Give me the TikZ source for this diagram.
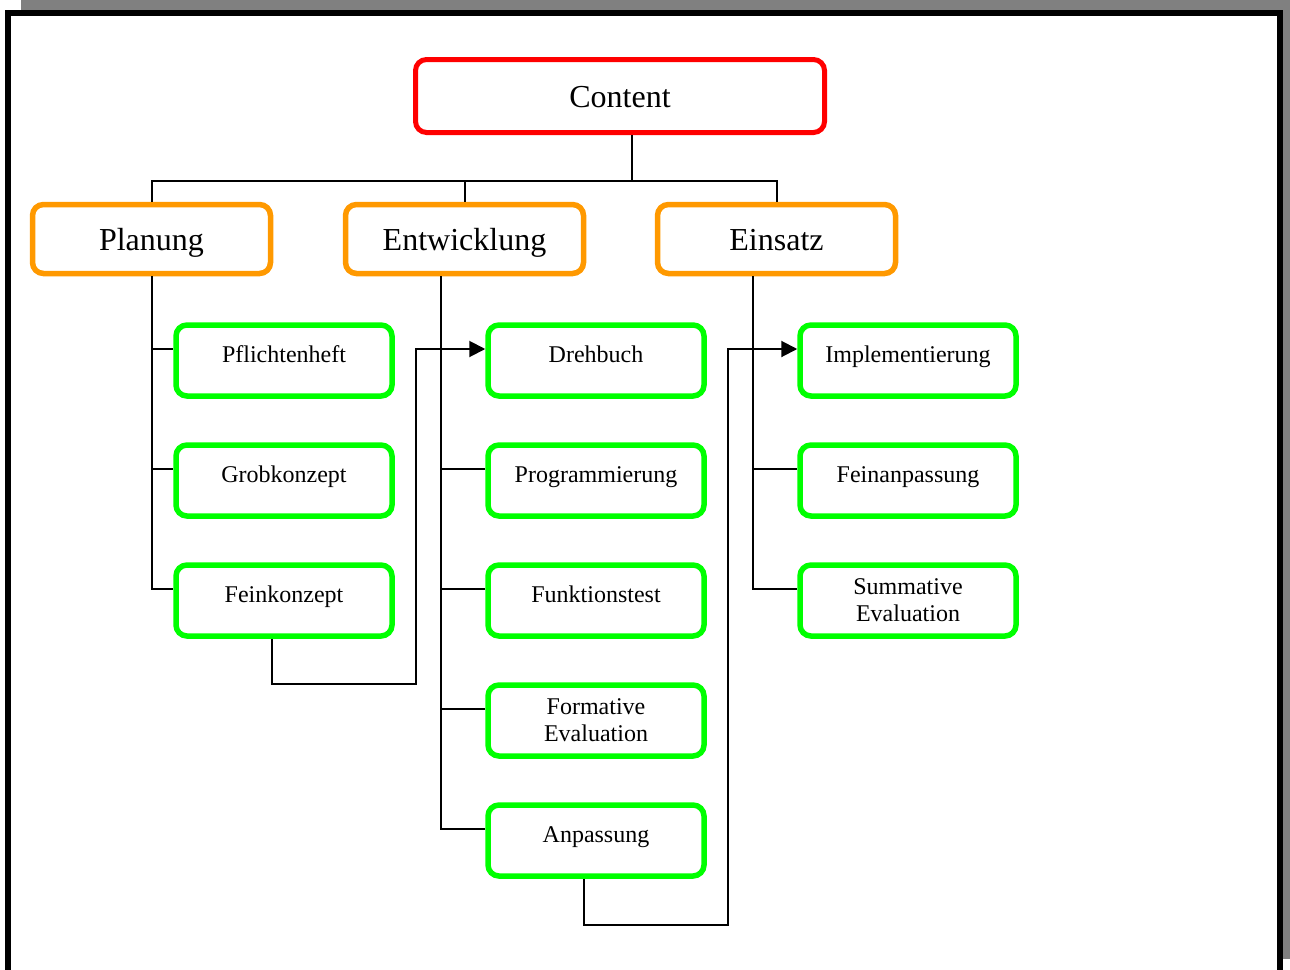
\documentclass[tikz,border=0pt]{standalone}
\usepackage{fontspec}
\setmainfont{Liberation Serif}
\usetikzlibrary{arrows.meta}
\definecolor{boxred}{RGB}{255,0,0}
\definecolor{boxorange}{RGB}{255,153,0}
\definecolor{boxgreen}{RGB}{0,255,0}
\definecolor{shadowgray}{RGB}{128,128,128}

\begin{document}
\begin{tikzpicture}[x=1pt,y=-1pt,
  bigtext/.style={font=\fontsize{32}{38}\selectfont, text height=22pt, text depth=0pt},
  topbox/.style={draw=boxred, line width=5pt, rounded corners=11pt,
    minimum width=409pt, minimum height=73pt, inner sep=0pt, bigtext},
  phasebox/.style={draw=boxorange, line width=5.5pt, rounded corners=11pt,
    minimum width=238pt, minimum height=69pt, inner sep=0pt, bigtext},
  taskbox/.style={draw=boxgreen, line width=5.5pt, rounded corners=11pt,
    minimum width=216pt, minimum height=71pt, inner sep=0pt, align=center,
    font=\fontsize{24}{27}\selectfont},
  oneline/.style={text height=16pt, text depth=13pt},
  wire/.style={line width=2pt, black},
  flow/.style={wire, -{Triangle[length=16pt,width=16pt]}},
]
% page frame with its shadow
\useasboundingbox (0,0) rectangle (1290,969);
\clip (0,0) rectangle (1290,969);
\fill[shadowgray] (21,0) rectangle (1290,959);
\draw[line width=6pt, fill=white] (8,12.5) rectangle (1280,1000);

% top level and phases
\node[topbox] (content) at (620,96) {Content};
\node[phasebox] (plan) at (151.5,239) {Planung};
\node[phasebox] (dev) at (464.5,239) {Entwicklung};
\node[phasebox] (use) at (776.5,239) {Einsatz};

% tasks of the planning phase
\node[taskbox, oneline] (pf) at (284,360.5) {Pflichtenheft};
\node[taskbox, oneline] (gk) at (284,480.5) {Grobkonzept};
\node[taskbox, oneline] (fk) at (284,600.5) {Feinkonzept};

% tasks of the development phase
\node[taskbox, oneline] (dreh) at (596,360.5) {Drehbuch};
\node[taskbox, oneline] (prog) at (596,480.5) {Programmierung};
\node[taskbox, oneline] (ft) at (596,600.5) {Funktionstest};
\node[taskbox] (fe) at (596,720.5) {Formative\\Evaluation};
\node[taskbox, oneline] (anp) at (596,840.5) {Anpassung};

% tasks of the deployment phase
\node[taskbox, oneline] (impl) at (908,360.5) {Implementierung};
\node[taskbox, oneline] (fein) at (908,480.5) {Feinanpassung};
\node[taskbox] (se) at (908,600.5) {Summative\\Evaluation};

% tree from Content to the phases
\coordinate (bus) at (632,180.5);
\draw[wire] ([xshift=12pt]content.south) -- (bus);
\draw[wire] (plan.north) |- (bus) -| (use.north);
\draw[wire] (dev.north) -- (dev.north |- bus);

% planning branches
\draw[wire] (plan.south) |- ([yshift=11.5pt]pf.west);
\draw[wire] (plan.south) |- ([yshift=11.5pt]gk.west);
\draw[wire] (plan.south) |- ([yshift=11.5pt]fk.west);

% development branches
\draw[wire] ([xshift=-24pt]dev.south) |- ([yshift=11.5pt]prog.west);
\draw[wire] ([xshift=-24pt]dev.south) |- ([yshift=11.5pt]ft.west);
\draw[wire] ([xshift=-24pt]dev.south) |- ([yshift=11.5pt]fe.west);
\draw[wire] ([xshift=-24pt]dev.south) |- ([yshift=11.5pt]anp.west);

% deployment branches
\draw[wire] ([xshift=-24pt]use.south) |- ([yshift=11.5pt]fein.west);
\draw[wire] ([xshift=-24pt]use.south) |- ([yshift=11.5pt]se.west);

% hand-over from one phase to the next
\coordinate (fkturn) at (416,684);
\draw[flow] ([xshift=-12pt]fk.south) |- (fkturn) |- ([yshift=11.5pt]dreh.west);
\coordinate (anpturn) at (728,924.5);
\draw[flow] ([xshift=-12pt]anp.south) |- (anpturn) |- ([yshift=11.5pt]impl.west);
\end{tikzpicture}
\end{document}
